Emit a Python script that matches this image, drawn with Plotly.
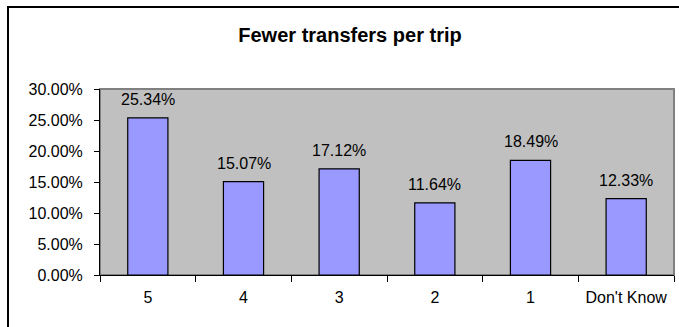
import plotly.graph_objects as go

# Share of respondents by rating for "Fewer transfers per trip"
categories = ["5", "4", "3", "2", "1", "Don't Know"]
shares = [0.2534, 0.1507, 0.1712, 0.1164, 0.1849, 0.1233]
y_ticks = [0, 0.05, 0.10, 0.15, 0.20, 0.25, 0.30]

FONT = "Liberation Sans, Arial, sans-serif"

fig = go.Figure(
    go.Bar(
        x=categories,
        y=shares,
        width=0.42,
        marker=dict(color="#9999FF", line=dict(color="#000000", width=1.2)),
        hoverinfo="skip",
    )
)

# value labels above each bar (x given as category index)
for i, v in enumerate(shares):
    fig.add_annotation(
        x=i, y=v, text=f"{v:.2%}", showarrow=False,
        yanchor="bottom", yshift=8,
        font=dict(family=FONT, size=16, color="#000000"),
    )

W, H = 679, 327
L, R, T, B = 100, 5, 89, 52
pw, ph = W - L - R, H - T - B

# outer chart border (runs off the right and bottom edges)
fig.add_shape(
    type="rect", xref="paper", yref="paper",
    x0=(8 - L) / pw, x1=(W + 20 - L) / pw,
    y0=-(B + 20) / ph, y1=1 + (T - 7) / ph,
    line=dict(color="#000000", width=2), layer="below",
)
# plot area frame
fig.add_shape(
    type="rect", xref="paper", yref="paper", x0=0, x1=1, y0=0, y1=1,
    line=dict(color="#808080", width=2), layer="below",
)

fig.update_layout(
    width=W, height=H,
    margin=dict(l=L, r=R, t=T, b=B),
    paper_bgcolor="#FFFFFF",
    plot_bgcolor="#C0C0C0",
    showlegend=False,
    title=dict(
        text="<b>Fewer transfers per trip</b>",
        x=(350 - L) / pw, xref="paper", xanchor="center",
        y=1 - 35 / H, yanchor="middle",
        font=dict(family=FONT, size=20, color="#000000"),
    ),
    font=dict(family=FONT, size=16, color="#000000"),
)

fig.update_xaxes(
    type="category",
    showline=True, linecolor="#000000", linewidth=1,
    ticks="outside", ticklen=6, tickcolor="#000000", tickwidth=1,
    tickson="boundaries",
    ticklabelstandoff=8,
    showgrid=False, zeroline=False,
    tickfont=dict(family=FONT, size=16, color="#000000"),
)
fig.update_yaxes(
    range=[0, 0.30],
    tickvals=y_ticks, tickformat=".2%",
    showline=True, linecolor="#000000", linewidth=1,
    ticks="outside", ticklen=5, tickcolor="#000000", tickwidth=1,
    ticklabelstandoff=8,
    showgrid=False, zeroline=False,
    tickfont=dict(family=FONT, size=16, color="#000000"),
)

fig.write_html("out.html")
